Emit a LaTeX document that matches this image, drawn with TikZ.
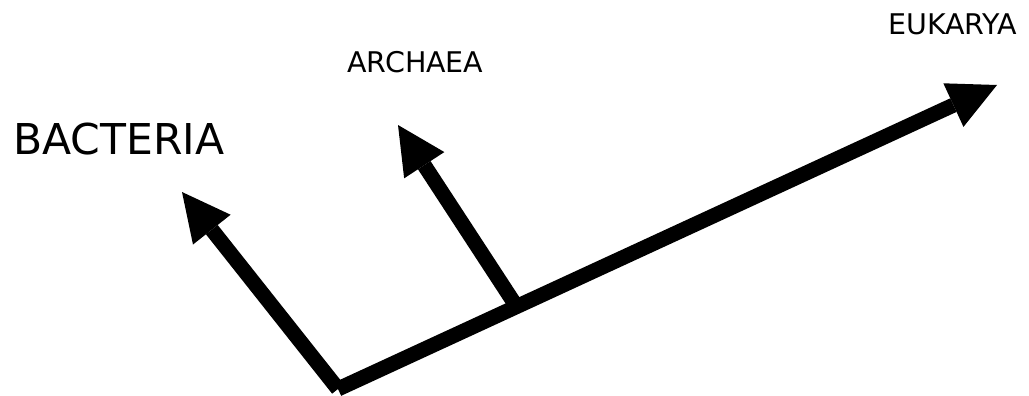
\documentclass[tikz,border=0pt]{standalone}
\usepackage{fontspec}
\setmainfont{DejaVu Sans}
\usetikzlibrary{arrows.meta,calc}
\tikzset{
  branch/.style={line width=15pt, line cap=butt,
    -{Triangle[length=48pt,width=48pt,line width=0pt]}},
  biglabel/.style={inner sep=0pt, anchor=base west, font=\fontsize{42.5}{50}\selectfont},
  smalllabel/.style={inner sep=0pt, anchor=base west, font=\fontsize{28.5}{34}\selectfont}
}
\begin{document}
\begin{tikzpicture}[x=1pt,y=-1pt]
  \useasboundingbox (0,0) rectangle (1029,396);
  \coordinate (root) at (338,389);
  \coordinate (eukTip) at (997,85);
  \coordinate (bacTip) at (182,192);
  \coordinate (arcTip) at (398,125);
  \coordinate (fork) at ($(root)!0.271!(eukTip)$);
  \draw[branch] (root) -- (eukTip);
  \draw[branch] (root) -- (bacTip);
  \draw[branch] (fork) -- (arcTip);
  \node[biglabel] (bac) at (13,154) {BACTERIA};
  \node[smalllabel] (arc) at (347,73) {ARCHAEA};
  \node[smalllabel] (euk) at (888,35) {EUKARYA};
\end{tikzpicture}
\end{document}
